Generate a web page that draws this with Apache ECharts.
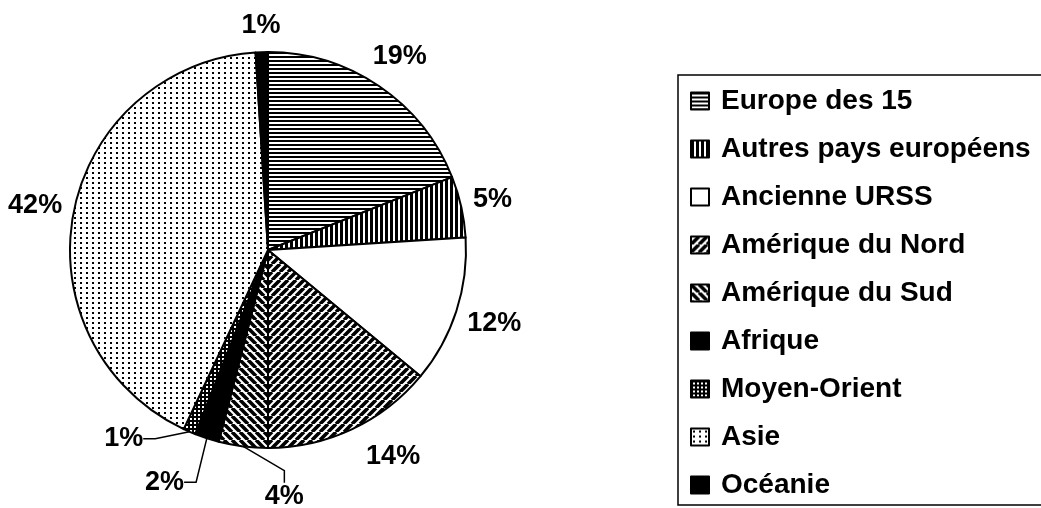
<!DOCTYPE html>
<html>
<head>
<meta charset="utf-8">
<script src="https://cdn.jsdelivr.net/npm/echarts@6.0.0/dist/echarts.min.js"></script>
<style>
  html, body { margin: 0; background: #fff; }
  #chart { width: 1041px; height: 508px; }
</style>
</head>
<body>
<div id="chart"></div>
<script>
// données (parts en %)
const regions = ['Europe des 15', 'Autres pays européens', 'Ancienne URSS', 'Amérique du Nord',
  'Amérique du Sud', 'Afrique', 'Moyen-Orient', 'Asie', 'Océanie'];
const shares = [19, 5, 12, 14, 4, 2, 1, 42, 1];

// réglages des étiquettes : [décalage d'angle en degrés, distance en plus]
const labelNudge = [[0, 0], [0, 0], [0, 0], [-6, 8], [-11, 24], [6, 26], [14, 7], [0, 0], [0, 2]];
const withLeader = [false, false, false, false, true, true, true, false, false];

const CX = 268, CY = 250, R = 198;
const FONT = '"Liberation Sans", Arial, sans-serif';

// motifs noir et blanc
function tile(w, h, draw) {
  const c = document.createElement('canvas');
  c.width = w; c.height = h;
  const g = c.getContext('2d');
  g.fillStyle = '#fff';
  g.fillRect(0, 0, w, h);
  g.fillStyle = '#000';
  g.strokeStyle = '#000';
  draw(g, w, h);
  return { image: c, repeat: 'repeat' };
}
function diag(g, s, up) {
  g.lineWidth = 3.6;
  g.beginPath();
  for (let k = -1; k <= 1; k++) {
    if (up) { g.moveTo(k * s, s); g.lineTo(k * s + s, 0); }
    else { g.moveTo(k * s, 0); g.lineTo(k * s + s, s); }
  }
  g.stroke();
}

const fills = [
  tile(4, 4, g => g.fillRect(0, 0, 4, 2)),             // lignes horizontales
  tile(5, 5, g => g.fillRect(0, 0, 3, 5)),             // lignes verticales
  '#fff',
  tile(8, 8, g => diag(g, 8, true)),                   // diagonales /
  tile(8, 8, g => diag(g, 8, false)),                  // diagonales \
  '#000',
  tile(4, 4, g => { g.fillRect(0, 0, 4, 2); g.fillRect(0, 0, 2, 4); }), // quadrillage
  tile(6, 5, g => g.fillRect(2, 2, 2, 2)),             // points
  '#000'
];

const total = shares.reduce((a, b) => a + b, 0);
function midAngle(i) {
  let before = 0;
  for (let k = 0; k < i; k++) before += shares[k];
  return (before + shares[i] / 2) / total * 360;
}

const myChart = echarts.init(document.getElementById('chart'));

const option = {
  backgroundColor: '#fff',
  animation: false,
  legend: {
    orient: 'vertical',
    left: 678,
    top: 75,
    padding: [12, 12, 6, 12],
    borderColor: '#000',
    borderWidth: 1.5,
    itemWidth: 18,
    itemHeight: 17,
    itemGap: 20,
    icon: 'rect',
    selectedMode: false,
    textStyle: {
      fontSize: 28,
      fontWeight: 'bold',
      fontFamily: FONT,
      color: '#000',
      lineHeight: 28,
      padding: [0, 0, 0, 7]
    },
    data: regions
  },
  series: [
    {
      type: 'pie',
      center: [CX, CY],
      radius: R,
      startAngle: 90,
      clockwise: true,
      avoidLabelOverlap: false,
      emphasis: { disabled: true },
      itemStyle: {
        borderColor: '#000',
        borderWidth: 2
      },
      label: {
        show: true,
        position: 'outside',
        formatter: '{c}%',
        fontSize: 27,
        fontWeight: 'bold',
        fontFamily: FONT,
        color: '#000'
      },
      labelLine: {
        show: false,
        length: 10,
        length2: 12,
        lineStyle: { color: '#000', width: 1.5 }
      },
      labelLayout: function (p) {
        const i = p.dataIndex;
        const a = (midAngle(i) + labelNudge[i][0]) * Math.PI / 180;
        const s = Math.sin(a), c = Math.cos(a);
        const hw = p.labelRect.width / 2, hh = p.labelRect.height / 2;
        const d = R + 10 + Math.abs(s) * hw + Math.abs(c) * hh + labelNudge[i][1];
        return { x: CX + d * s, y: CY - d * c, align: 'center', verticalAlign: 'middle' };
      },
      data: regions.map((name, i) => ({
        name: name,
        value: shares[i],
        itemStyle: { color: fills[i] },
        labelLine: { show: withLeader[i] }
      }))
    }
  ]
};

myChart.setOption(option);
</script>
</body>
</html>
